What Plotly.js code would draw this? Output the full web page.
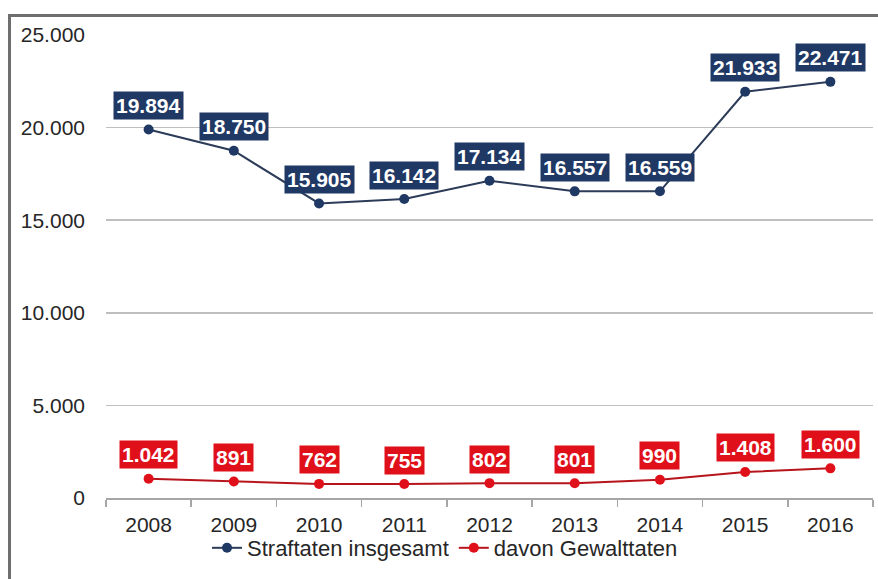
<!DOCTYPE html>
<html>
<head>
<meta charset="utf-8">
<script src="https://cdn.plot.ly/plotly-3.0.1.min.js"></script>
<style>
  html, body { margin: 0; padding: 0; background: #ffffff; }
  #wrap { position: relative; width: 878px; height: 579px; overflow: hidden; }
  #chart { position: absolute; left: 0; top: 0; width: 878px; height: 579px; }
  .frameTop { position: absolute; left: 8px; top: 14px; width: 870px; height: 3px; background: #6e6e6e; }
  .frameLeft { position: absolute; left: 8px; top: 14px; width: 3px; height: 565px; background: #6e6e6e; }
  #err { position: absolute; left: 20px; top: 300px; color: #f00; font: 12px monospace; }
</style>
</head>
<body>
<div id="wrap">
  <div id="chart"></div>
  <div class="frameTop"></div>
  <div class="frameLeft"></div>
  <div id="err"></div>
</div>
<script>
const years = ['2008', '2009', '2010', '2011', '2012', '2013', '2014', '2015', '2016'];
const straftaten = [19894, 18750, 15905, 16142, 17134, 16557, 16559, 21933, 22471];
const gewalttaten = [1042, 891, 762, 755, 802, 801, 990, 1408, 1600];
const seriesNames = ['Straftaten insgesamt', 'davon Gewalttaten'];
const yTicks = [0, 5000, 10000, 15000, 20000, 25000];

const FONT = 'Liberation Sans, Arial, sans-serif';
const blue = '#1f3864';
const blueLine = '#2b3b58';
const red = '#e0101a';
const redLine = '#b8141c';

function fmtDE(v) {
  return String(v).replace(/\B(?=(\d{3})+(?!\d))/g, '.');
}

const traces = [
  {
    x: years, y: straftaten, name: seriesNames[0], type: 'scatter', mode: 'lines+markers',
    line: { color: blueLine, width: 2 },
    marker: { color: blue, size: 10 },
    hoverinfo: 'skip'
  },
  {
    x: years, y: gewalttaten, name: seriesNames[1], type: 'scatter', mode: 'lines+markers',
    line: { color: redLine, width: 2 },
    marker: { color: red, size: 10 },
    hoverinfo: 'skip'
  }
];

function labels(vals, bg) {
  const out = [];
  for (let i = 0; i < years.length; i++) {
    out.push({
      x: i, y: vals[i], xref: 'x', yref: 'y',
      text: '<b>' + fmtDE(vals[i]) + '</b>', showarrow: false,
      yshift: 24, xanchor: 'center', yanchor: 'middle',
      bgcolor: bg, borderpad: 2,
      font: { family: FONT, size: 21, color: '#ffffff' }
    });
  }
  return out;
}

const layout = {
  width: 878, height: 579,
  margin: { l: 106, r: 5, t: 35, b: 81, pad: 0 },
  paper_bgcolor: '#ffffff', plot_bgcolor: '#ffffff',
  separators: ',.',
  showlegend: true,
  font: { family: FONT, color: '#262626' },
  xaxis: {
    type: 'category', range: [-0.5, 8.5],
    tickson: 'boundaries', ticks: 'outside', ticklen: 7, tickwidth: 1.5, tickcolor: '#a6a6a6',
    showline: true, linecolor: '#a6a6a6', linewidth: 1.5,
    showgrid: false, zeroline: false,
    ticklabelstandoff: 7,
    tickfont: { family: FONT, size: 21, color: '#262626' }
  },
  yaxis: {
    range: [0, 25000], tickvals: yTicks, tickformat: ',d',
    showgrid: true, gridcolor: '#bfbfbf', gridwidth: 1.5,
    zeroline: false, showline: false, ticks: '',
    ticklabelstandoff: 20,
    tickfont: { family: FONT, size: 21, color: '#262626' }
  },
  legend: {
    orientation: 'h', xref: 'paper', x: 0.442, xanchor: 'center',
    y: -0.108, yanchor: 'middle',
    font: { family: FONT, size: 22, color: '#262626' },
    itemwidth: 30, bgcolor: 'rgba(0,0,0,0)'
  },
  annotations: labels(straftaten, blue).concat(labels(gewalttaten, red))
};

try {
  Plotly.newPlot('chart', traces, layout, { staticPlot: true, displayModeBar: false })
    .catch(function (e) { document.getElementById('err').textContent = String(e); });
} catch (e) {
  document.getElementById('err').textContent = String(e);
}
</script>
</body>
</html>
